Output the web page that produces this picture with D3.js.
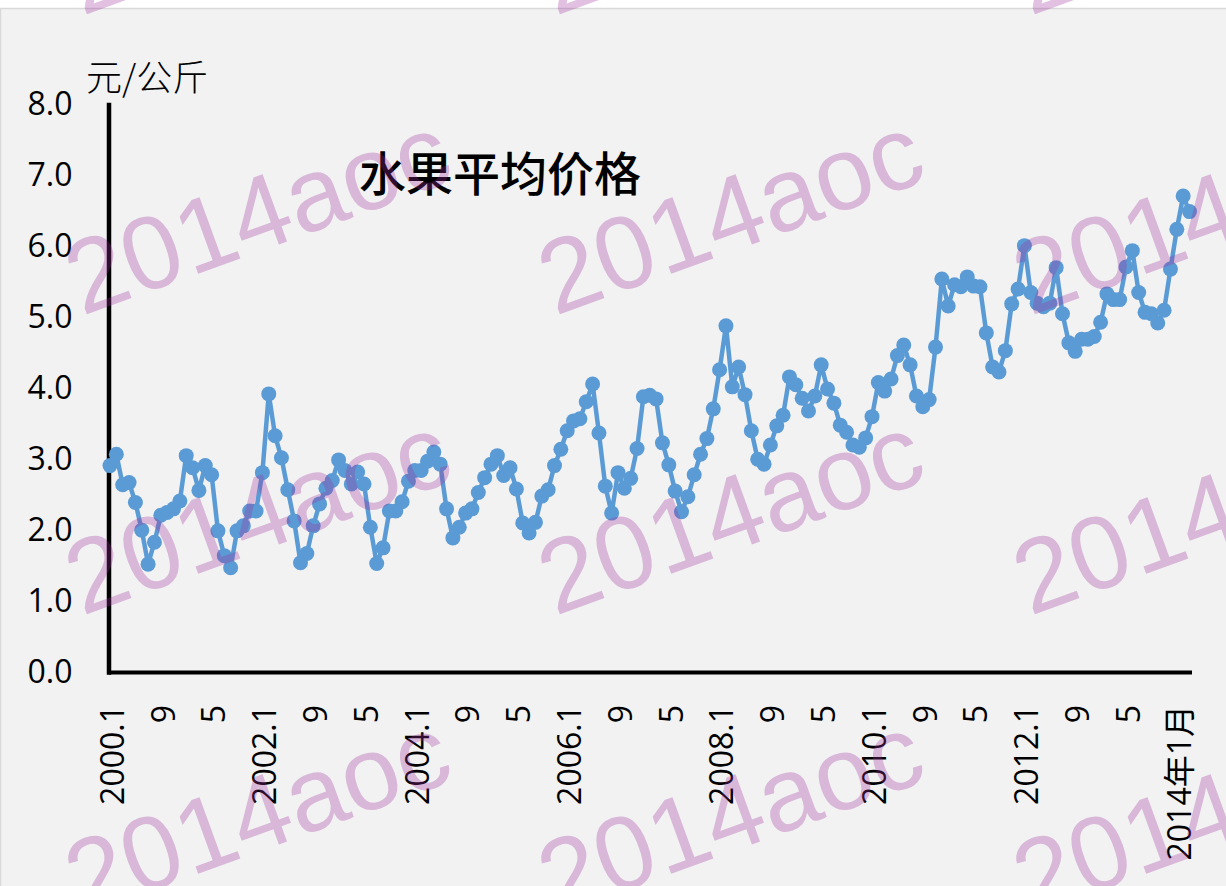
<!DOCTYPE html>
<html>
<head>
<meta charset="utf-8">
<script src="https://cdn.jsdelivr.net/npm/d3@7"></script>
<style>
  html, body { margin: 0; padding: 0; background: #ffffff; }
  svg { display: block; }
</style>
</head>
<body>
<div id="chart"></div>
<script>
// monthly average fruit price, yuan per kg, 2000.1 .. 2014.3
var prices = [
  2.91, 3.07, 2.64, 2.67, 2.39, 2.00, 1.52, 1.83, 2.21, 2.25, 2.30, 2.41, // 2000
  3.05, 2.88, 2.56, 2.91, 2.78, 1.99, 1.64, 1.47, 1.99, 2.06, 2.27, 2.27, // 2001
  2.81, 3.92, 3.33, 3.02, 2.57, 2.13, 1.54, 1.67, 2.06, 2.37, 2.59, 2.70, // 2002
  2.99, 2.84, 2.65, 2.82, 2.65, 2.04, 1.53, 1.75, 2.27, 2.27, 2.40, 2.69, // 2003
  2.84, 2.84, 2.97, 3.10, 2.93, 2.30, 1.89, 2.04, 2.24, 2.30, 2.53, 2.74, // 2004
  2.93, 3.05, 2.77, 2.88, 2.58, 2.10, 1.96, 2.11, 2.48, 2.57, 2.91, 3.14, // 2005
  3.40, 3.54, 3.57, 3.81, 4.06, 3.37, 2.62, 2.24, 2.81, 2.59, 2.73, 3.15, // 2006
  3.88, 3.90, 3.85, 3.23, 2.92, 2.55, 2.26, 2.47, 2.78, 3.07, 3.29, 3.71, // 2007
  4.26, 4.88, 4.02, 4.30, 3.91, 3.40, 3.00, 2.93, 3.20, 3.47, 3.62, 4.16, // 2008
  4.05, 3.86, 3.68, 3.89, 4.33, 3.99, 3.79, 3.48, 3.38, 3.20, 3.17, 3.30, // 2009
  3.60, 4.08, 3.96, 4.13, 4.46, 4.61, 4.33, 3.89, 3.74, 3.84, 4.58, 5.54, // 2010
  5.16, 5.46, 5.43, 5.57, 5.44, 5.43, 4.78, 4.30, 4.23, 4.53, 5.19, 5.40, // 2011
  6.01, 5.35, 5.20, 5.15, 5.20, 5.70, 5.05, 4.64, 4.52, 4.69, 4.69, 4.73, // 2012
  4.93, 5.33, 5.25, 5.25, 5.71, 5.94, 5.35, 5.07, 5.05, 4.92, 5.10, 5.68, // 2013
  6.24, 6.71, 6.49                                                      // 2014
]

// x tick labels, one every 8 months
var xTickLabels = ["2000.1", "9", "5", "2002.1", "9", "5", "2004.1", "9", "5",
  "2006.1", "9", "5", "2008.1", "9", "5", "2010.1", "9", "5",
  "2012.1", "9", "5", "2014年1月"]
var yTicks = [0, 1, 2, 3, 4, 5, 6, 7, 8]

var title = "水果平均价格"
var unitLabel = "元/公斤"
var watermark = "2014aoc"

// category keys: one per month
var months = prices.map(function(d, i) {
  return (2000 + Math.floor(i / 12)) + "." + (i % 12 + 1)
})
var data = prices.map(function(v, i) { return {month: months[i], value: v} })

var width = 1226,
    height = 886

var svg = d3.select("#chart")
  .append("svg")
    .attr("width", width)
    .attr("height", height)

// chart area background
svg.append("rect")
  .attr("x", 0.5).attr("y", 8.5)
  .attr("width", width + 20).attr("height", height + 20)
  .attr("fill", "#f2f2f2")
  .attr("stroke", "#d9d9d9")
  .attr("stroke-width", 1.5)

var x = d3.scalePoint()
  .domain(months)
  .range([110, 1189.5])

var y = d3.scaleLinear()
  .domain([0, 8])
  .range([672, 104.5])

var tickFont = "'Open Sans', 'Noto Sans CJK SC', sans-serif"

// y axis
var yAxis = svg.append("g")
  .attr("transform", "translate(108.5,0)")
  .call(d3.axisLeft(y).tickValues(yTicks).tickFormat(d3.format(".1f")).tickSize(0).tickSizeOuter(0).tickPadding(36))
yAxis.select(".domain")
  .attr("stroke", "#000")
  .attr("stroke-width", 4.5)
  .attr("stroke-linecap", "square")
yAxis.selectAll("text")
  .style("font-family", tickFont)
  .style("font-size", "32px")
  .attr("fill", "#000")

// x axis
var xAxis = svg.append("g")
  .attr("transform", "translate(0,672)")
  .call(d3.axisBottom(x)
    .tickValues(months.filter(function(d, i) { return i % 8 === 0 }))
    .tickFormat(function(d, i) { return xTickLabels[i] })
    .tickSize(0).tickSizeOuter(0))
xAxis.select(".domain")
  .attr("stroke", "#000")
  .attr("stroke-width", 4)
  .attr("stroke-linecap", "square")
xAxis.selectAll("text")
  .attr("transform", "rotate(-90)")
  .attr("x", -33)
  .attr("y", 2)
  .attr("dy", "0.35em")
  .style("text-anchor", "end")
  .style("font-family", tickFont)
  .style("font-size", "32px")
  .attr("fill", "#000")

// line + markers
var line = d3.line()
  .x(function(d) { return x(d.month) })
  .y(function(d) { return y(d.value) })

svg.append("path")
  .datum(data)
  .attr("d", line)
  .attr("fill", "none")
  .attr("stroke", "#5b9bd5")
  .attr("stroke-width", 4.5)
  .attr("stroke-linejoin", "round")

svg.selectAll(".dot")
  .data(data)
  .enter()
  .append("circle")
    .attr("class", "dot")
    .attr("cx", function(d) { return x(d.month) })
    .attr("cy", function(d) { return y(d.value) })
    .attr("r", 7.5)
    .attr("fill", "#5b9bd5")

// title and unit
svg.append("text")
  .attr("x", 500)
  .attr("y", 174)
  .attr("dy", "0.36em")
  .attr("text-anchor", "middle")
  .style("font-family", "'Noto Sans CJK SC', sans-serif")
  .style("font-weight", 500)
  .style("font-size", "47px")
  .attr("fill", "#000")
  .text(title)

svg.append("text")
  .attr("x", 86)
  .attr("y", 78)
  .attr("dy", "0.36em")
  .style("font-family", "'Noto Sans CJK SC', sans-serif")
  .style("font-weight", 300)
  .style("font-size", "36px")
  .attr("fill", "#000")
  .text(unitLabel)

// watermark grid on top
var wmCols = [82, 555, 1030]
var wmRows = [16, 316, 616, 916]
var wm = svg.append("g")
wmRows.forEach(function(ry) {
  wmCols.forEach(function(cx) {
    wm.append("text")
      .attr("transform", "translate(" + cx + "," + ry + ") rotate(-20)")
      .style("font-family", "'Liberation Sans', Arial, sans-serif")
      .style("font-size", "104px")
      .attr("fill", "#9a2f9a")
      .attr("fill-opacity", 0.3)
      .text(watermark)
  })
})
</script>
</body>
</html>
